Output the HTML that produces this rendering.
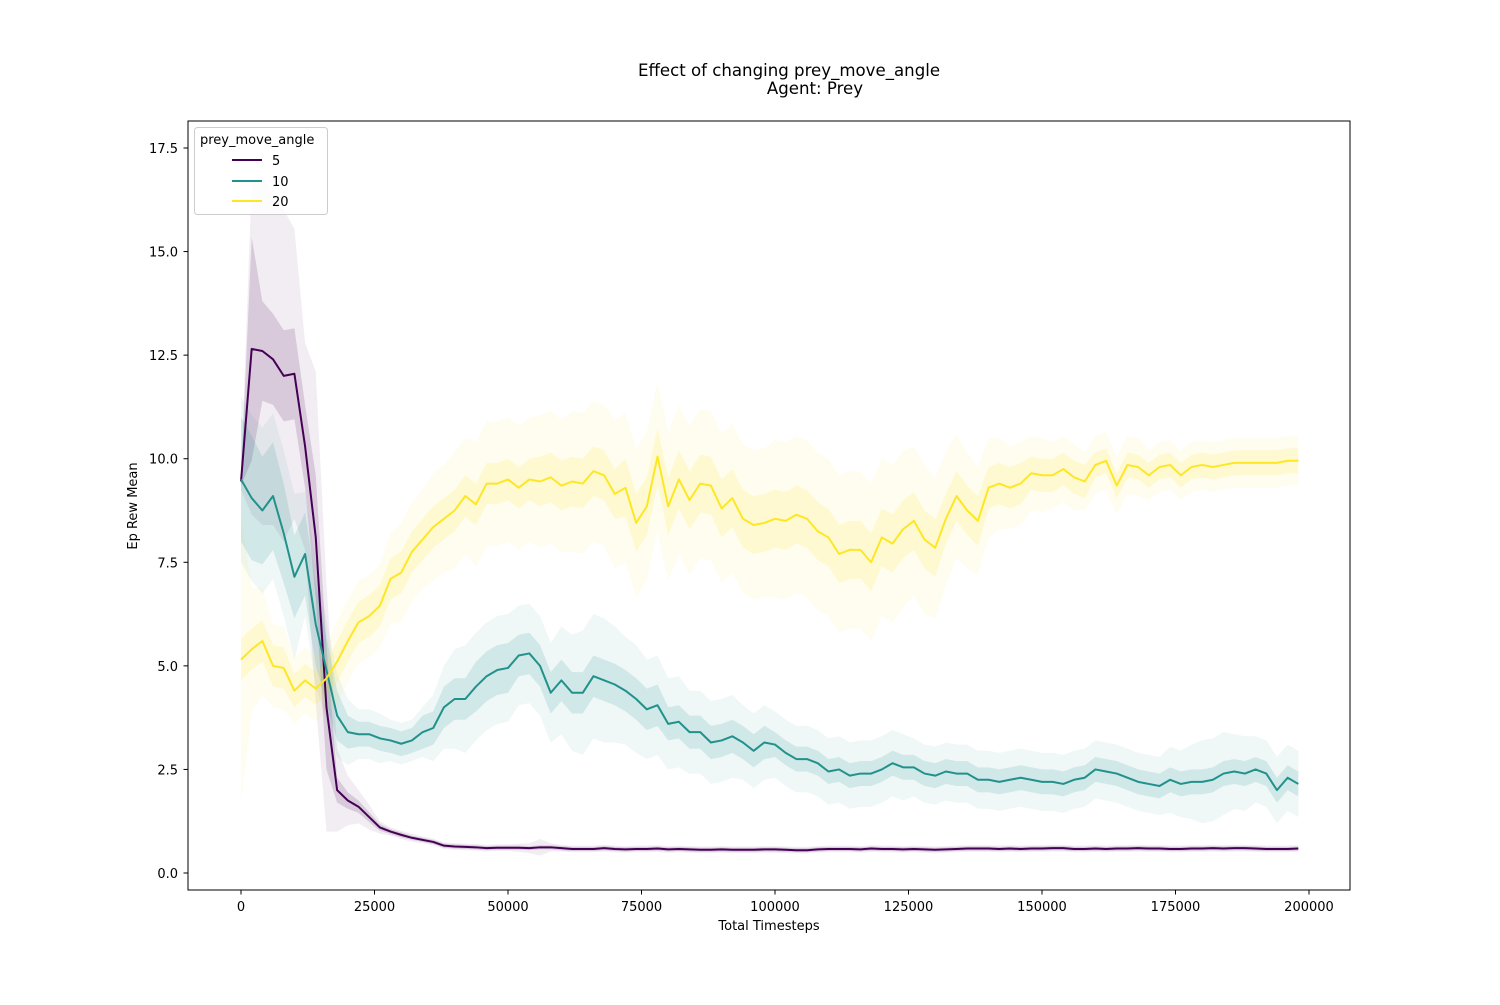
<!DOCTYPE html>
<html><head><meta charset="utf-8"><style>
body{margin:0;background:#fff;}
svg text{font-family:"DejaVu Sans","Liberation Sans",sans-serif;fill:#000;}
</style></head><body>
<svg id="chart" width="1500" height="1000" xmlns="http://www.w3.org/2000/svg">
<rect width="1500" height="1000" fill="#fff"/>
<text x="789" y="76" font-size="16.6" text-anchor="middle">Effect of changing prey_move_angle</text>
<text x="815" y="94" font-size="16.6" text-anchor="middle">Agent: Prey</text>
<g id="bands"></g><g id="lines"></g>
<rect x="188" y="121" width="1162" height="769" fill="none" stroke="#000" stroke-width="1"/>
<g id="xt"></g><g id="yt"></g>
<text x="769" y="930" font-size="13" text-anchor="middle">Total Timesteps</text>
<text transform="translate(137,506) rotate(-90)" font-size="13" text-anchor="middle">Ep Rew Mean</text>
<g>
<rect x="194.5" y="127.5" width="133" height="87" rx="3" fill="#fff" fill-opacity="0.8" stroke="#ccc"/>
<text x="200" y="144" font-size="13">prey_move_angle</text>
<g><line x1="232" y1="160" x2="262" y2="160" stroke="#440154" stroke-width="2"/><text x="272" y="165" font-size="13">5</text></g>
<g><line x1="232" y1="181" x2="262" y2="181" stroke="#21918c" stroke-width="2"/><text x="272" y="186" font-size="13">10</text></g>
<g><line x1="232" y1="201" x2="262" y2="201" stroke="#fde725" stroke-width="2"/><text x="272" y="206" font-size="13">20</text></g>
</g>
</svg>
<script>
const xTicks=[0,25000,50000,75000,100000,125000,150000,175000,200000];
const yTicks=[0.0,2.5,5.0,7.5,10.0,12.5,15.0,17.5];
const yTickLabels=["0.0","2.5","5.0","7.5","10.0","12.5","15.0","17.5"];
const seriesNames=["5","10","20"];
const s5=[9.45,12.65,12.6,12.4,12.0,12.05,10.3,8.1,4.0,2.0,1.75,1.6,1.35,1.1,1.0,0.92,0.85,0.8,0.75,0.66,0.64,0.63,0.62,0.6,0.61,0.61,0.61,0.6,0.62,0.62,0.6,0.58,0.58,0.58,0.6,0.58,0.57,0.58,0.58,0.59,0.57,0.58,0.57,0.56,0.56,0.57,0.56,0.56,0.56,0.57,0.57,0.56,0.55,0.55,0.57,0.58,0.58,0.58,0.57,0.59,0.58,0.58,0.57,0.58,0.57,0.56,0.57,0.58,0.59,0.59,0.59,0.58,0.59,0.58,0.59,0.59,0.6,0.6,0.58,0.58,0.59,0.58,0.59,0.59,0.6,0.59,0.59,0.58,0.58,0.59,0.59,0.6,0.59,0.6,0.6,0.59,0.58,0.58,0.58,0.59];
const s10=[9.5,9.05,8.75,9.1,8.2,7.15,7.7,6.0,4.9,3.8,3.4,3.35,3.35,3.25,3.2,3.12,3.2,3.4,3.5,4.0,4.2,4.2,4.5,4.75,4.9,4.95,5.25,5.3,5.0,4.35,4.65,4.35,4.35,4.75,4.65,4.55,4.4,4.2,3.95,4.05,3.6,3.65,3.4,3.4,3.15,3.2,3.3,3.15,2.95,3.15,3.1,2.9,2.75,2.75,2.65,2.45,2.5,2.35,2.4,2.4,2.5,2.65,2.55,2.55,2.4,2.35,2.45,2.4,2.4,2.25,2.25,2.2,2.25,2.3,2.25,2.2,2.2,2.15,2.25,2.3,2.5,2.45,2.4,2.3,2.2,2.15,2.1,2.25,2.15,2.2,2.2,2.25,2.4,2.45,2.4,2.5,2.4,2.0,2.3,2.15];
const s20=[5.15,5.4,5.6,5.0,4.95,4.4,4.65,4.45,4.7,5.1,5.6,6.05,6.2,6.45,7.1,7.25,7.75,8.05,8.35,8.55,8.75,9.1,8.9,9.4,9.4,9.5,9.3,9.5,9.45,9.55,9.35,9.45,9.4,9.7,9.6,9.15,9.3,8.45,8.85,10.05,8.85,9.5,9.0,9.4,9.35,8.8,9.05,8.55,8.4,8.45,8.55,8.5,8.65,8.55,8.25,8.1,7.7,7.8,7.8,7.5,8.1,7.95,8.3,8.5,8.05,7.85,8.55,9.1,8.75,8.5,9.3,9.4,9.3,9.4,9.65,9.6,9.6,9.75,9.55,9.45,9.85,9.95,9.35,9.85,9.8,9.6,9.8,9.85,9.6,9.8,9.85,9.8,9.85,9.9,9.9,9.9,9.9,9.9,9.95,9.95];
const in5=[0.1,2.7,1.2,1.1,1.1,1.1,1.0,1.5,1.5,0.3,0.2,0.15,0.12,0.08,0.06,0.06,0.05,0.05,0.05,0.05,0.05,0.05,0.05,0.05,0.05,0.05,0.05,0.05,0.05,0.05,0.05,0.05,0.05,0.05,0.05,0.05,0.05,0.05,0.05,0.05,0.05,0.05,0.05,0.05,0.05,0.05,0.05,0.05,0.05,0.05,0.05,0.05,0.05,0.05,0.05,0.05,0.05,0.05,0.05,0.05,0.05,0.05,0.05,0.05,0.05,0.05,0.05,0.05,0.05,0.05,0.05,0.05,0.05,0.05,0.05,0.05,0.05,0.05,0.05,0.05,0.05,0.05,0.05,0.05,0.05,0.05,0.05,0.05,0.05,0.05,0.05,0.05,0.05,0.05,0.05,0.05,0.05,0.05,0.05,0.05];
const out5=[0.2,4.0,4.2,4.0,4.0,3.5,2.5,4.0,3.0,1.0,0.6,0.4,0.3,0.15,0.1,0.1,0.1,0.08,0.08,0.08,0.08,0.08,0.08,0.08,0.08,0.08,0.1,0.12,0.2,0.1,0.08,0.08,0.08,0.08,0.08,0.08,0.08,0.08,0.08,0.08,0.08,0.08,0.08,0.08,0.08,0.08,0.08,0.08,0.08,0.08,0.08,0.08,0.08,0.08,0.08,0.08,0.08,0.08,0.08,0.08,0.08,0.08,0.08,0.08,0.08,0.08,0.08,0.08,0.08,0.08,0.08,0.08,0.08,0.08,0.08,0.08,0.08,0.08,0.08,0.08,0.08,0.08,0.08,0.08,0.08,0.08,0.08,0.08,0.08,0.08,0.08,0.08,0.08,0.08,0.08,0.08,0.08,0.08,0.08,0.08];
const in10=[1.5,1.5,1.3,1.3,1.2,1.0,1.0,1.0,0.8,0.6,0.4,0.3,0.3,0.3,0.3,0.3,0.3,0.4,0.4,0.5,0.5,0.5,0.6,0.6,0.6,0.6,0.5,0.5,0.5,0.5,0.5,0.5,0.5,0.5,0.5,0.5,0.5,0.5,0.5,0.5,0.4,0.4,0.4,0.4,0.4,0.4,0.4,0.4,0.4,0.4,0.3,0.3,0.3,0.3,0.3,0.3,0.3,0.3,0.3,0.3,0.3,0.3,0.3,0.3,0.3,0.3,0.3,0.3,0.3,0.3,0.3,0.3,0.3,0.3,0.3,0.3,0.3,0.3,0.3,0.3,0.3,0.3,0.3,0.3,0.3,0.3,0.3,0.3,0.3,0.3,0.3,0.3,0.3,0.3,0.3,0.3,0.3,0.3,0.3,0.3];
const out10=[2.0,2.0,2.0,2.0,2.0,2.0,1.5,1.5,1.2,1.0,0.8,0.6,0.6,0.6,0.5,0.5,0.5,0.6,0.8,1.0,1.2,1.3,1.3,1.3,1.3,1.3,1.2,1.2,1.2,1.2,1.3,1.4,1.5,1.5,1.5,1.4,1.3,1.3,1.2,1.2,1.1,1.1,1.0,1.0,1.0,1.0,1.0,0.9,0.9,0.9,0.8,0.8,0.8,0.8,0.8,0.8,0.8,0.8,0.8,0.8,0.8,0.8,0.8,0.7,0.7,0.7,0.7,0.7,0.7,0.7,0.7,0.7,0.7,0.7,0.7,0.7,0.7,0.7,0.7,0.7,0.7,0.7,0.7,0.7,0.7,0.7,0.7,0.8,0.8,0.9,1.0,1.0,1.0,0.9,0.9,0.8,0.8,0.8,0.8,0.8];
const in20=[0.5,0.5,0.5,0.5,0.5,0.4,0.4,0.4,0.4,0.5,0.5,0.5,0.5,0.5,0.5,0.5,0.5,0.5,0.5,0.5,0.5,0.5,0.5,0.5,0.5,0.5,0.5,0.5,0.6,0.6,0.6,0.6,0.6,0.6,0.6,0.6,0.7,0.7,0.7,0.7,0.7,0.7,0.7,0.7,0.7,0.7,0.7,0.7,0.7,0.7,0.7,0.7,0.7,0.7,0.7,0.7,0.7,0.7,0.7,0.7,0.7,0.7,0.7,0.7,0.7,0.7,0.6,0.6,0.6,0.6,0.5,0.5,0.5,0.5,0.4,0.4,0.4,0.4,0.4,0.4,0.3,0.3,0.3,0.3,0.3,0.3,0.3,0.3,0.3,0.3,0.3,0.3,0.3,0.3,0.3,0.3,0.3,0.3,0.3,0.3];
const out20=[3.5,1.5,1.3,1.0,1.0,0.8,0.8,0.8,0.8,1.0,1.0,1.0,1.0,1.0,1.1,1.2,1.2,1.2,1.3,1.3,1.4,1.4,1.5,1.5,1.5,1.5,1.5,1.5,1.6,1.6,1.6,1.7,1.7,1.7,1.7,1.8,1.8,1.8,1.8,1.8,1.8,1.8,1.8,1.8,1.8,1.8,1.8,1.8,1.8,1.8,1.9,1.9,1.9,1.9,1.9,1.9,1.9,1.9,1.9,1.9,1.9,1.9,1.9,1.8,1.8,1.7,1.6,1.5,1.4,1.3,1.2,1.1,1.0,1.0,0.9,0.9,0.8,0.8,0.8,0.7,0.7,0.7,0.7,0.7,0.7,0.6,0.6,0.6,0.6,0.6,0.6,0.6,0.6,0.6,0.6,0.6,0.6,0.6,0.6,0.6];
const stepX=2000;
const X0=241,X1=1309,Y0=873,Y1=148;
function sx(v){return X0+(X1-X0)*v/200000;}
function sy(v){return Y0-(Y0-Y1)*v/17.5;}
const NS="http://www.w3.org/2000/svg";
function mk(t,a,p){const e=document.createElementNS(NS,t);for(const k in a)e.setAttribute(k,a[k]);p.appendChild(e);return e;}
const xt=document.getElementById('xt'),yt=document.getElementById('yt');
xTicks.forEach(v=>{const g=mk('g',{},xt);


mk('line',{x1:sx(v),x2:sx(v),y1:890,y2:894.5,stroke:'#000'},g);
const t=mk('text',{x:sx(v),y:911,'font-size':13,'text-anchor':'middle'},g);t.textContent=String(v);});
yTicks.forEach((v,i)=>{const g=mk('g',{},yt);


mk('line',{x1:183.5,x2:188,y1:sy(v),y2:sy(v),stroke:'#000'},g);
const t=mk('text',{x:178,y:sy(v)+5,'font-size':13,'text-anchor':'end'},g);t.textContent=yTickLabels[i];});
const series=[[s5,in5,out5,'#440154'],[s10,in10,out10,'#21918c'],[s20,in20,out20,'#fde725']];
const bands=document.getElementById('bands'),lines=document.getElementById('lines');
function band(s,w){let up=s.map((v,i)=>sx(i*stepX)+','+sy(v+w[i]));let dn=s.map((v,i)=>sx(i*stepX)+','+sy(Math.max(v-w[i],-0.5))).reverse();return up.concat(dn).join(' ');}
series.forEach((S,k)=>{
const o=mk('polygon',{points:band(S[0],S[2]),fill:S[3],'fill-opacity':0.07},bands);


const n=mk('polygon',{points:band(S[0],S[1]),fill:S[3],'fill-opacity':0.15},bands);


const l=mk('polyline',{points:S[0].map((v,i)=>sx(i*stepX)+','+sy(v)).join(' '),fill:'none',stroke:S[3],'stroke-width':2,'stroke-linejoin':'round'},lines);


});
</script>
</body></html>
